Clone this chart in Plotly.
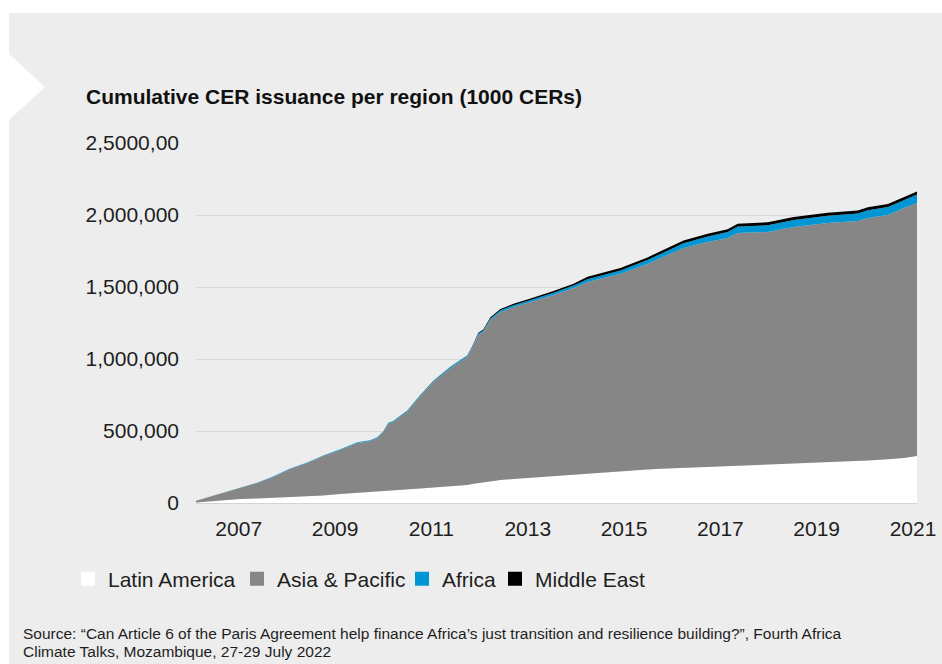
import plotly.graph_objects as go

# ---------------- data (values in thousands; plotted x1000) ----------------
dates = ["2006-02-11", "2006-09-04", "2007-01-11", "2007-05-20", "2007-09-18", "2008-01-25",
         "2008-06-03", "2008-10-02", "2009-02-09", "2009-06-18", "2009-09-24", "2009-11-16",
         "2010-01-01", "2010-02-08", "2010-03-17", "2010-07-01", "2010-10-08", "2011-01-16",
         "2011-05-24", "2011-09-30", "2011-11-07", "2011-12-23", "2012-01-30", "2012-03-24",
         "2012-06-08", "2012-09-15", "2013-01-22", "2013-07-15", "2013-12-14", "2014-02-05",
         "2014-03-30", "2014-12-05", "2015-03-14", "2015-06-28", "2015-10-05", "2016-03-27",
         "2016-09-26", "2017-02-25", "2017-05-12", "2017-12-26", "2018-07-11", "2019-03-25",
         "2019-11-09", "2020-01-24", "2020-06-24", "2020-10-24", "2021-01-31"]

latin_america = [3, 18, 28, 32, 36, 42, 47, 52, 63, 70, 76, 79, 83, 85, 87, 94, 101, 108, 114, 125,
                 132, 139, 145, 153, 160, 167, 176, 187, 198, 201, 204, 222, 227, 233, 237, 243,
                 250, 257, 261, 268, 274, 282, 292, 296, 304, 312, 326]
asia_pacific = [12, 51, 76, 107, 145, 194, 231, 274, 305, 347, 355, 372, 410, 467, 476, 538, 639,
                732, 824, 889, 944, 1028, 1043, 1118, 1166, 1194, 1220, 1257, 1295, 1313, 1331,
                1370, 1398, 1427, 1464, 1528, 1563, 1583, 1614, 1614, 1643, 1662, 1666, 1683,
                1696, 1737, 1757]
africa = [0, 1, 2, 2, 3, 3, 4, 4, 5, 5, 5, 5, 6, 6, 6, 7, 7, 8, 8, 9, 9, 10, 10, 11, 12, 13, 14,
          16, 17, 18, 19, 22, 24, 27, 29, 33, 38, 42, 45, 47, 49, 51, 53, 54, 55, 57, 60]
middle_east = [0, 0, 0, 0, 0, 0, 0, 0, 0, 0, 0, 0, 0, 0, 0, 1, 1, 1, 1, 2, 3, 5, 6, 8, 9, 10, 11,
               12, 13, 16, 18, 18, 18, 18, 19, 19, 19, 19, 20, 20, 20, 20, 20, 20, 21, 21, 21]

series_names = ["Latin America", "Asia & Pacific", "Africa", "Middle East"]
series_colors = ["#ffffff", "#868686", "#0096d3", "#000000"]

x_tick_vals = ["2007-01-01", "2009-01-01", "2011-01-01", "2013-01-01", "2015-01-01",
               "2017-01-01", "2019-01-01", "2021-01-01"]
x_tick_text = ["2007", "2009", "2011", "2013", "2015", "2017", "2019", "2021"]
y_tick_vals = [0, 500000, 1000000, 1500000, 2000000, 2500000]
y_tick_text = ["0", "500,000", "1,000,000", "1,500,000", "2,000,000", "2,5000,00"]

title_text = "<b>Cumulative CER issuance per region (1000 CERs)</b>"
source_lines = ["Source: \u201cCan Article 6 of the Paris Agreement help finance Africa\u2019s just "
                "transition and resilience building?\u201d, Fourth Africa",
                "Climate Talks, Mozambique, 27-29 July 2022"]

SCALE = 1000
FONT = "Liberation Sans, Arial, sans-serif"
PANEL = "#ededed"

# ---------------- layout geometry (pixels) ----------------
W, H = 942, 664
L, R, T, B = 196, 25, 143, 161
PW, PH = W - L - R, H - T - B
legend_left_px = [68, 237, 402, 495]   # left edge of each legend entry


def px(xp):
    return (xp - L) / PW


def py(yp):
    return (H - B - yp) / PH


fig = go.Figure()
for name, vals, col in zip(series_names, [latin_america, asia_pacific, africa, middle_east], series_colors):
    fig.add_trace(go.Scatter(
        x=dates, y=[v * SCALE for v in vals], name=name, mode="lines",
        stackgroup="one", line=dict(width=0, color=col), fillcolor=col,
        showlegend=False, hoverinfo="skip"))

# legend entries with square swatches, one legend per entry
legend_ids = ["legend", "legend2", "legend3", "legend4"]
for name, col, lid in zip(series_names, series_colors, legend_ids):
    fig.add_trace(go.Scatter(
        x=[None], y=[None], mode="markers", name=name, legend=lid,
        marker=dict(symbol="square", size=14, color=col, line=dict(width=0))))

shapes = [
    dict(type="rect", xref="paper", yref="paper", x0=px(9), x1=px(W + 5), y0=py(H + 5), y1=py(13),
         fillcolor=PANEL, line=dict(width=0), layer="below"),
    dict(type="path", xref="paper", yref="paper",
         path=f"M {px(8)} {py(53)} L {px(45)} {py(87)} L {px(8)} {py(121)} Z",
         fillcolor="#ffffff", line=dict(width=0), layer="below"),
]

annotations = [
    dict(text=line, xref="paper", yref="paper", x=px(21), y=py(yc), xanchor="left", yanchor="middle",
         align="left", showarrow=False, font=dict(family=FONT, size=15.5, color="#1e1e1e"))
    for line, yc in zip(source_lines, [633, 651])
]

legend_layouts = {}
for lid, lx in zip(legend_ids, legend_left_px):
    legend_layouts[lid] = dict(orientation="h", x=px(lx), xanchor="left", y=py(579), yanchor="middle",
                               bgcolor="rgba(0,0,0,0)", font=dict(family=FONT, size=21, color="#1e1e1e"),
                               itemwidth=30, traceorder="normal")

fig.update_layout(
    width=W, height=H,
    margin=dict(l=L, r=R, t=T, b=B, pad=0),
    paper_bgcolor="#ffffff", plot_bgcolor="rgba(0,0,0,0)",
    font=dict(family=FONT, size=21, color="#1e1e1e"),
    title=dict(text=title_text, x=86 / W, xanchor="left", xref="container",
               y=1 - 97 / H, yanchor="middle", font=dict(family=FONT, size=21, color="#111111")),
    shapes=shapes,
    showlegend=True,
    annotations=annotations,
    **legend_layouts,
)

fig.update_xaxes(type="date", range=[dates[0], dates[-1]], tickvals=x_tick_vals, ticktext=x_tick_text,
                 showgrid=False, showline=True, linecolor="#d4d4d4", linewidth=1, ticks="",
                 zeroline=False, tickfont=dict(size=21), ticklabelstandoff=7, automargin=False)
fig.update_yaxes(range=[0, 2500000], tickvals=y_tick_vals, ticktext=y_tick_text,
                 showgrid=True, gridcolor="#d8d8d8", gridwidth=1, zeroline=False, ticks="",
                 showline=False, ticklabelstandoff=16, tickfont=dict(size=21), automargin=False)

fig.write_html("out.html", config={"displayModeBar": False},
               post_script="document.body.style.margin='0px';")
